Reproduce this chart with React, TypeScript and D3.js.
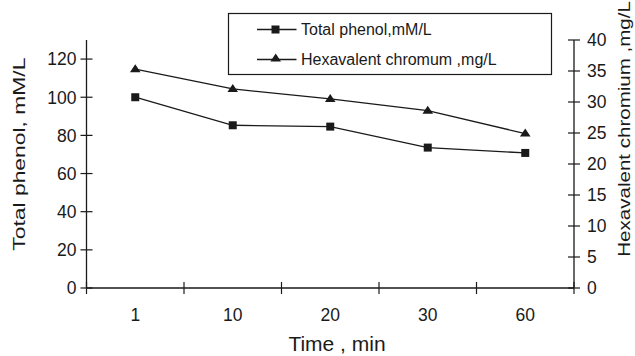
import React from "react";
import * as d3 from "d3";

const categories = ["1", "10", "20", "30", "60"];
const phenol = [100, 85.3, 84.6, 73.6, 70.8];
const chromium = [35.3, 32.1, 30.5, 28.6, 24.9];
const leftTicks = [0, 20, 40, 60, 80, 100, 120];
const rightTicks = [0, 5, 10, 15, 20, 25, 30, 35, 40];
const legendLabels = ["Total phenol,mM/L", "Hexavalent chromum ,mg/L"];

const W = 635, H = 356;
const L = 86.5, R = 574, T = 40, B = 288;
const C = "#1a1a1a";
const FONT = "Liberation Sans, Arial, sans-serif";
const TRI = "M0,-5L5.3,3L-5.3,3Z";

export default function App() {
  const x = d3.scaleBand().domain(categories).range([L, R]);
  const yL = d3.scaleLinear().domain([0, 130]).range([B, T]);
  const yR = d3.scaleLinear().domain([0, 40]).range([B, T]);
  const line = d3.line<[number, number]>().x(d => d[0]).y(d => d[1]);
  const cx = (c: string) => x(c)! + x.bandwidth() / 2;
  const pP: [number, number][] = phenol.map((v, i) => [cx(categories[i]), yL(v)]);
  const pC: [number, number][] = chromium.map((v, i) => [cx(categories[i]), yR(v)]);
  const xTicks = [...categories.map(c => x(c)!), R];

  return (
    <svg width={W} height={H} style={{ position: "absolute", left: 0, top: 0 }} fontFamily={FONT}>
      <rect width={W} height={H} fill="#fff" />
      {/* axes */}
      <line x1={L} x2={L} y1={T} y2={B} stroke={C} strokeWidth={1.3} />
      <line x1={R} x2={R} y1={T} y2={B} stroke={C} strokeWidth={1.3} />
      <line x1={L} x2={R} y1={B} y2={B} stroke={C} strokeWidth={1.3} />
      {leftTicks.map(t => (
        <g key={"l" + t}>
          <line x1={L - 6} x2={L + 6} y1={yL(t)} y2={yL(t)} stroke={C} strokeWidth={1.2} />
          <text x={L - 10} y={yL(t)} dy="0.36em" textAnchor="end" fontSize={17.5} fill={C}>{t}</text>
        </g>
      ))}
      {rightTicks.map(t => (
        <g key={"r" + t}>
          <line x1={R - 6} x2={R + 6} y1={yR(t)} y2={yR(t)} stroke={C} strokeWidth={1.2} />
          <text x={R + 13} y={yR(t)} dy="0.36em" textAnchor="start" fontSize={17.5} fill={C}>{t}</text>
        </g>
      ))}
      {xTicks.map((t, i) => (
        <line key={"x" + i} x1={t} x2={t} y1={B - 6} y2={B + 6} stroke={C} strokeWidth={1.2} />
      ))}
      {categories.map(c => (
        <text key={"c" + c} x={cx(c)} y={B + 33} textAnchor="middle" fontSize={17.5} fill={C}>{c}</text>
      ))}
      {/* titles */}
      <g transform="translate(337,350.5)">
        <text x={0} y={0} textAnchor="middle" fontSize={21} fill={C}>Time , min</text>
      </g>
      <g transform="translate(25,250.7) rotate(-90) scale(1.33,1)">
        <text x={0} y={0} textAnchor="start" fontSize={17.2} fill={C}>Total phenol, mM/L</text>
      </g>
      <g transform="translate(630,256.7) rotate(-90) scale(1.26,1)">
        <text x={0} y={0} textAnchor="start" fontSize={16.3} fill={C}>Hexavalent chromium ,mg/L</text>
      </g>
      {/* series */}
      <path d={line(pP)!} fill="none" stroke={C} strokeWidth={1.3} />
      <path d={line(pC)!} fill="none" stroke={C} strokeWidth={1.3} />
      {pP.map((p, i) => <rect key={"sp" + i} x={p[0] - 4} y={p[1] - 4} width={8} height={8} fill={C} />)}
      {pC.map((p, i) => <path key={"tc" + i} d={TRI} transform={`translate(${p[0]},${p[1]})`} fill={C} />)}
      {/* legend */}
      <rect x={228.5} y={13.5} width={323} height={61} fill="#fff" stroke={C} strokeWidth={1.2} />
      <line x1={257} x2={296.5} y1={29.5} y2={29.5} stroke={C} strokeWidth={1.3} />
      <rect x={271.5} y={25.5} width={8} height={8} fill={C} />
      <text x={301} y={29.5} dy="0.36em" fontSize={16} fill={C}>{legendLabels[0]}</text>
      <line x1={257} x2={296.5} y1={59.5} y2={59.5} stroke={C} strokeWidth={1.3} />
      <path d={TRI} transform="translate(275.7,58.5)" fill={C} />
      <text x={301} y={59.5} dy="0.36em" fontSize={16} fill={C}>{legendLabels[1]}</text>
    </svg>
  );
}
